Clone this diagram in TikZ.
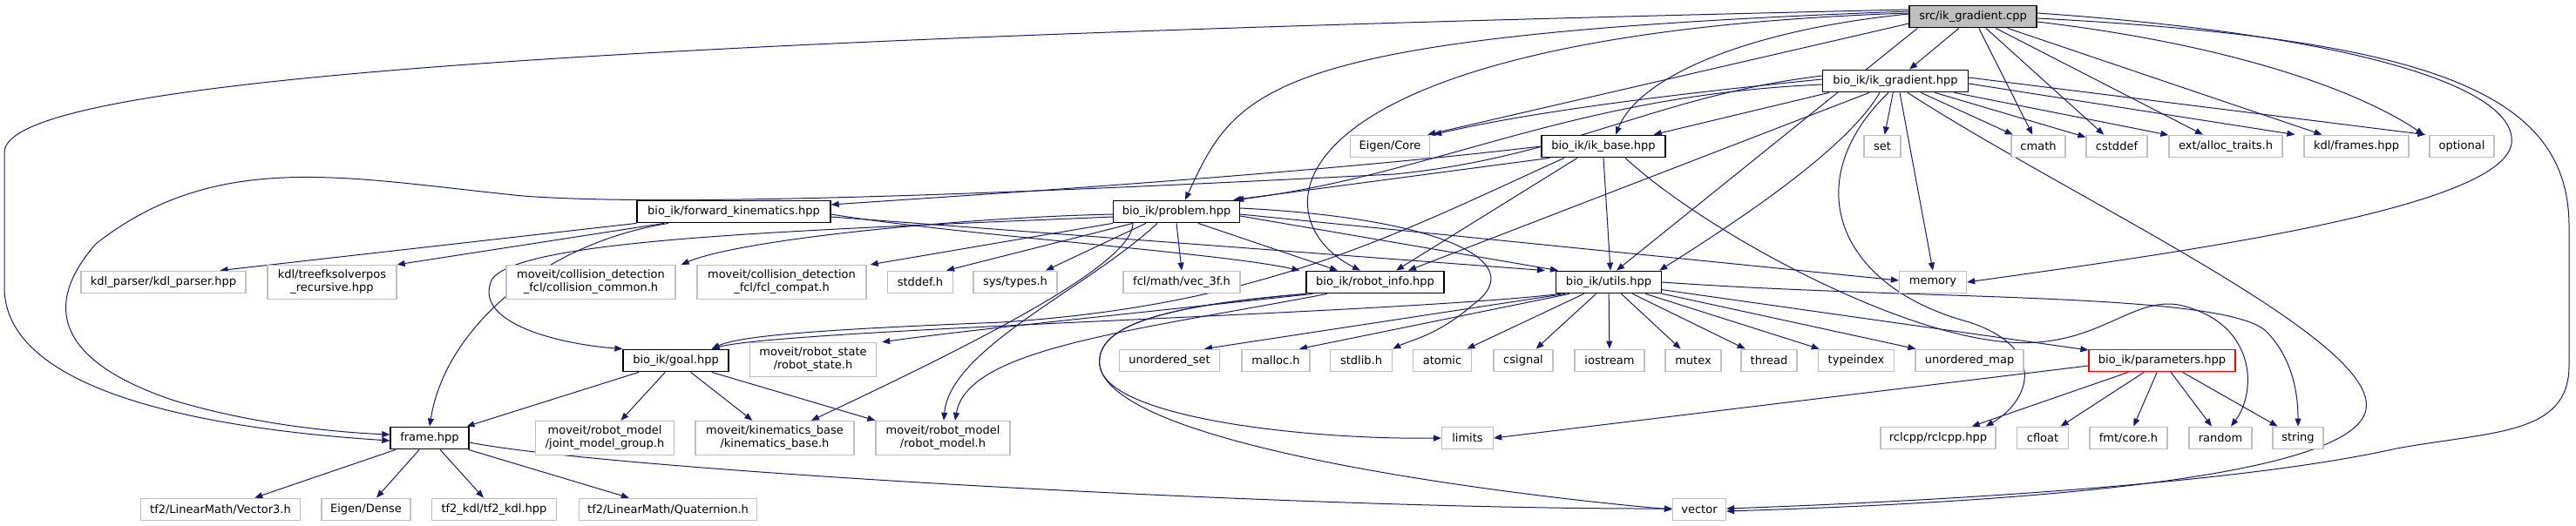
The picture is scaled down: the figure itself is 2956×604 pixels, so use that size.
\documentclass[tikz,border=0pt]{standalone}
\usepackage{fontspec}
\setmainfont{DejaVu Sans}
\usetikzlibrary{arrows.meta,backgrounds}
\definecolor{eblue}{RGB}{25,25,112}
\definecolor{gseventyfive}{RGB}{191,191,191}
\begin{document}
\begin{tikzpicture}[x=1pt,y=-1pt,
  font=\fontsize{13}{15}\selectfont,
  box/.style={draw, rectangle, minimum height=25.5pt, inner sep=0pt, line width=1.3pt, fill=white, align=center},
  ext/.style={box, draw=gseventyfive},
  doc/.style={box, draw=black},
  rootbox/.style={box, draw=black, fill=gseventyfive},
  redbox/.style={box, draw=red},
  two/.style={minimum height=39pt},
  dep/.style={draw=eblue, line width=1pt, -{Triangle[length=9pt,width=7pt]}}]
\useasboundingbox (0,0) rectangle (2956,604);
% row 0
\node[rootbox, minimum width=146pt] (S) at (2264,19) {src/ik\_gradient.cpp};
% row 1
\node[doc, minimum width=167pt] (G) at (2175,93) {bio\_ik/ik\_gradient.hpp};
% row 2
\node[ext, minimum width=91pt] (EC) at (1595,168) {Eigen/Core};
\node[doc, minimum width=142pt] (IB) at (1840,168) {bio\_ik/ik\_base.hpp};
\node[ext, minimum width=42pt] (set) at (2160,168) {set};
\node[ext, minimum width=62pt] (cmath) at (2339,168) {cmath};
\node[ext, minimum width=70pt] (cstddef) at (2429,168) {cstddef};
\node[ext, minimum width=130pt] (alloc) at (2554,168) {ext/alloc\_traits.h};
\node[ext, minimum width=120pt] (frames) at (2704,168) {kdl/frames.hpp};
\node[ext, minimum width=74pt] (optional) at (2825,168) {optional};
% row 3
\node[doc, minimum width=222pt] (FK) at (842,243) {bio\_ik/forward\_kinematics.hpp};
\node[doc, minimum width=145pt] (PR) at (1350,243) {bio\_ik/problem.hpp};
% row 4
\node[ext, minimum width=189pt] (kdlp) at (187.5,324) {kdl\_parser/kdl\_parser.hpp};
\node[ext, two, minimum width=148pt] (tree) at (381,324) {kdl/treefksolverpos\\\_recursive.hpp};
\node[ext, two, minimum width=194pt] (cc) at (678,324) {moveit/collision\_detection\\\_fcl/collision\_common.h};
\node[ext, two, minimum width=194pt] (fc) at (897,324) {moveit/collision\_detection\\\_fcl/fcl\_compat.h};
\node[ext, minimum width=75pt] (stddef) at (1056,324) {stddef.h};
\node[ext, minimum width=96pt] (systypes) at (1165,324) {sys/types.h};
\node[ext, minimum width=134pt] (vec3f) at (1356,324) {fcl/math/vec\_3f.h};
\node[doc, minimum width=158pt] (RI) at (1578,324) {bio\_ik/robot\_info.hpp};
\node[doc, minimum width=121pt] (U) at (1846,324) {bio\_ik/utils.hpp};
\node[ext, minimum width=77pt] (memory) at (2218,324) {memory};
% row 5
\node[doc, minimum width=121pt] (goal) at (775.5,414) {bio\_ik/goal.hpp};
\node[ext, two, minimum width=145pt] (rs) at (933,413) {moveit/robot\_state\\/robot\_state.h};
\node[ext, minimum width=115pt] (uset) at (1342,414) {unordered\_set};
\node[ext, minimum width=78pt] (malloc) at (1464,414) {malloc.h};
\node[ext, minimum width=71pt] (stdlib) at (1562,414) {stdlib.h};
\node[ext, minimum width=67pt] (atomic) at (1655,414) {atomic};
\node[ext, minimum width=68pt] (csignal) at (1748,414) {csignal};
\node[ext, minimum width=80pt] (iostream) at (1847,414) {iostream};
\node[ext, minimum width=64pt] (mutex) at (1943,414) {mutex};
\node[ext, minimum width=64pt] (thread) at (2030,414) {thread};
\node[ext, minimum width=87pt] (typeindex) at (2130,414) {typeindex};
\node[ext, minimum width=124pt] (umap) at (2260,414) {unordered\_map};
\node[redbox, minimum width=168pt] (P) at (2481,414) {bio\_ik/parameters.hpp};
% row 6
\node[doc, minimum width=90pt] (frame) at (493,503) {frame.hpp};
\node[ext, two, minimum width=159pt] (jmg) at (694,503) {moveit/robot\_model\\/joint\_model\_group.h};
\node[ext, two, minimum width=182pt] (kb) at (889,503) {moveit/kinematics\_base\\/kinematics\_base.h};
\node[ext, two, minimum width=154pt] (rm) at (1082,503) {moveit/robot\_model\\/robot\_model.h};
\node[ext, minimum width=59pt] (limits) at (1684,503) {limits};
\node[ext, minimum width=132pt] (rclcpp) at (2224,503) {rclcpp/rclcpp.hpp};
\node[ext, minimum width=59pt] (cfloat) at (2344,503) {cfloat};
\node[ext, minimum width=89pt] (fmt) at (2442.5,503) {fmt/core.h};
\node[ext, minimum width=72pt] (random) at (2548,503) {random};
\node[ext, minimum width=58pt] (string) at (2637,503) {string};
% row 7
\node[ext, minimum width=183pt] (v3) at (253,585) {tf2/LinearMath/Vector3.h};
\node[ext, minimum width=102pt] (ed) at (420,585) {Eigen/Dense};
\node[ext, minimum width=143pt] (tfk) at (567,585) {tf2\_kdl/tf2\_kdl.hpp};
\node[ext, minimum width=204pt] (quat) at (766.5,585) {tf2/LinearMath/Quaternion.h};
\node[ext, minimum width=61pt] (vector) at (1950,585) {vector};

\begin{pgfonlayer}{background}
% from src/ik_gradient.cpp
\draw[dep] (S) -- (G);
\draw[dep] (S) -- (cmath);
\draw[dep] (S) -- (cstddef);
\draw[dep] (S) -- (alloc);
\draw[dep] (S) -- (frames);
\draw[dep] ([yshift=-6pt]S.east) .. controls (2550,50) and (2700,100) .. ([xshift=-6pt]optional.north west);
\draw[dep] ([yshift=3pt]S.west) .. controls (2000,35) and (1880,90) .. ([xshift=14pt]IB.north);
\draw[dep] ([yshift=-8pt]S.west) -- ([xshift=-3pt]EC.north east);
\draw[dep] ([yshift=6pt]S.west) .. controls (1450,40) and (1420,100) .. ([xshift=10pt]PR.north);
\draw[dep] ([yshift=4pt]S.west) .. controls (1450,40) and (1440,250) .. ([xshift=-17pt]RI.north);
\draw[dep] ([xshift=10pt]S.south west) -- ([xshift=9pt]U.north);
\draw[dep] ([yshift=8pt]S.west) .. controls (700,45) and (5,90) .. (5,175) -- (5,330) .. controls (5,440) and (200,490) .. ([yshift=-3pt]frame.west);
\draw[dep] ([yshift=4pt]S.east) .. controls (2700,40) and (2890,100) .. (2882,165) .. controls (2870,240) and (2500,290) .. (memory.east);
\draw[dep] ([yshift=-2pt]S.east) .. controls (2800,45) and (2948,110) .. (2948,260) -- (2948,420) .. controls (2948,500) and (2860,495) .. (2750,515) .. controls (2550,560) and (2150,578) .. ([yshift=1pt]vector.east);
% from bio_ik/ik_gradient.hpp
\draw[dep] (G) -- (set);
\draw[dep] (G) -- (cmath);
\draw[dep] (G) -- (cstddef);
\draw[dep] (G) -- (alloc);
\draw[dep] ([yshift=-3pt]G.east) -- ([xshift=-10pt]frames.north west);
\draw[dep] ([yshift=4pt]G.east) -- ([xshift=-4pt]optional.north west);
\draw[dep] ([xshift=5pt]G.south) -- (memory.north);
\draw[dep] ([yshift=2pt]G.west) .. controls (1900,110) and (1750,130) .. ([xshift=4pt]EC.north east);
\draw[dep] ([xshift=8pt]G.south west) -- ([xshift=-14pt]IB.north east);
\draw[dep] ([yshift=-4pt]G.west) .. controls (1800,110) and (1650,200) .. ([xshift=-5pt]PR.north east);
\draw[dep] ([xshift=-30pt]G.south) -- ([xshift=38pt]RI.north);
\draw[dep] ([xshift=-18pt]G.south) .. controls (2120,170) and (2000,250) .. ([xshift=-3pt]U.north east);
\draw[dep] ([xshift=14pt]G.south) .. controls (2380,230) and (2730,390) .. (2715,470) .. controls (2700,560) and (2200,580) .. ([yshift=-2pt]vector.east);
\draw[dep] ([xshift=-8pt]G.south) .. controls (2060,210) and (2110,330) .. (2260,370) .. controls (2350,400) and (2330,460) .. ([xshift=-12pt]rclcpp.north east);
\draw[dep] ([yshift=6pt]G.west) .. controls (1900,110) and (1800,180) .. (1600,200) .. controls (1300,215) and (800,240) .. (600,225) .. controls (400,205) and (250,170) .. (110,280) .. controls (40,360) and (80,420) .. (200,460) .. controls (300,490) and (400,497) .. ([yshift=4pt]frame.west);
% from bio_ik/ik_base.hpp
\draw[dep] (IB.west) .. controls (1500,200) and (1100,225) .. ([yshift=8pt]FK.east);
\draw[dep] ([xshift=10pt]IB.south west) -- ([xshift=-8pt]PR.north east);
\draw[dep] ([xshift=-30pt]IB.south) -- ([xshift=24pt]RI.north);
\draw[dep] (IB.south) -- ([xshift=2pt]U.north);
\draw[dep] ([xshift=-45pt]IB.south) .. controls (1600,270) and (1450,350) .. (1150,370) .. controls (950,378) and (850,385) .. ([xshift=-20pt]goal.north east);
\draw[dep] ([xshift=25pt]IB.south) .. controls (1950,260) and (2150,370) .. (2280,390) .. controls (2400,410) and (2440,340) .. (2500,350) .. controls (2590,370) and (2590,450) .. ([xshift=12pt]random.north);
% from bio_ik/problem.hpp
\draw[dep] ([yshift=-3pt]PR.west) .. controls (1100,250) and (850,275) .. ([xshift=6pt]cc.north east);
\draw[dep] (PR.south west) -- ([xshift=4pt]fc.north east);
\draw[dep] ([xshift=-50pt]PR.south) -- ([xshift=30pt]stddef.north);
\draw[dep] ([xshift=-35pt]PR.south) -- ([xshift=35pt]systypes.north);
\draw[dep] (PR.south) -- (vec3f.north);
\draw[dep] ([xshift=25pt]PR.south) -- ([xshift=-43pt]RI.north);
\draw[dep] ([yshift=-5pt]PR.east) -- ([xshift=-58pt]U.north);
\draw[dep] ([yshift=-3pt]PR.east) -- ([yshift=2pt]memory.west);
\draw[dep] ([yshift=-6pt]PR.west) .. controls (900,265) and (600,275) .. (565,320) .. controls (540,370) and (640,395) .. (goal.north west);
\draw[dep] ([xshift=-22pt]PR.south) .. controls (1250,330) and (1090,400) .. ([xshift=1pt]rm.north);
\draw[dep] ([xshift=-50pt]PR.south) .. controls (1300,300) and (1150,380) .. ([xshift=42pt]kb.north);
\draw[dep] ([yshift=4pt]PR.east) .. controls (1650,250) and (1760,300) .. (1690,350) .. controls (1650,385) and (1620,390) .. (stdlib.north east);
% from bio_ik/forward_kinematics.hpp
\draw[dep] (FK.south west) -- ([xshift=65pt]kdlp.north);
\draw[dep] ([xshift=-80pt]FK.south) -- (tree.north east);
\draw[dep] ([xshift=-75pt]FK.south) .. controls (620,280) and (510,380) .. (frame.north);
\draw[dep] ([yshift=-3pt]FK.east) .. controls (1100,270) and (1400,290) .. ([xshift=-7pt]RI.north west);
\draw[dep] ([yshift=-6pt]FK.east) -- ([xshift=-12pt]U.north west);
% from bio_ik/robot_info.hpp
\draw[dep] ([xshift=8pt]RI.south west) .. controls (1300,360) and (1100,380) .. ([xshift=6pt]rs.north east);
\draw[dep] ([xshift=-55pt]RI.south) .. controls (1300,380) and (1110,400) .. ([xshift=14pt]rm.north);
\draw[dep] (RI.south west) .. controls (1350,350) and (1255,370) .. (1262,420) .. controls (1270,480) and (1500,505) .. (limits.west);
\draw[dep] (RI.south west) .. controls (1350,350) and (1255,370) .. (1262,420) .. controls (1280,520) and (1800,575) .. (vector.west);
% from bio_ik/utils.hpp
\draw[dep] ([xshift=-55pt]U.south) .. controls (1600,360) and (900,378) .. ([xshift=-20pt]goal.north east);
\draw[dep] ([xshift=-50pt]U.south) -- ([xshift=40pt]uset.north);
\draw[dep] ([xshift=-45pt]U.south) -- ([xshift=27pt]malloc.north);
\draw[dep] (U) -- (atomic);
\draw[dep] (U) -- (csignal);
\draw[dep] (U) -- (iostream);
\draw[dep] (U) -- (mutex);
\draw[dep] (U) -- (thread);
\draw[dep] (U) -- (typeindex);
\draw[dep] (U) -- (umap);
\draw[dep] (U) -- (P);
\draw[dep] (U.east) .. controls (2200,345) and (2550,335) .. (2600,380) .. controls (2630,410) and (2637,450) .. (string.north);
% from bio_ik/goal.hpp
\draw[dep] (goal) -- (frame);
\draw[dep] (goal) -- (jmg);
\draw[dep] (goal) -- (kb);
\draw[dep] ([xshift=-20pt]goal.south east) -- (rm.north west);
% from frame.hpp
\draw[dep] (frame) -- (v3);
\draw[dep] (frame) -- (ed);
\draw[dep] (frame) -- (tfk);
\draw[dep] (frame) -- (quat);
\draw[dep] ([yshift=-5pt]frame.east) .. controls (700,540) and (1500,585) .. ([yshift=1pt]vector.west);
% from bio_ik/parameters.hpp
\draw[dep] ([yshift=-6pt]P.west) -- (limits.east);
\draw[dep] (P) -- (rclcpp);
\draw[dep] (P) -- (cfloat);
\draw[dep] (P) -- (fmt);
\draw[dep] (P) -- (random);
\draw[dep] (P) -- (string);
\end{pgfonlayer}
\end{tikzpicture}
\end{document}
